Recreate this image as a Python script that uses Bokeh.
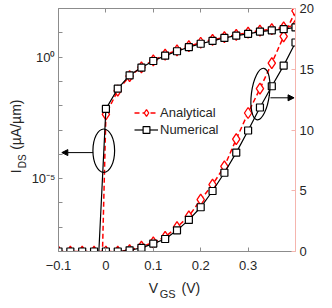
from bokeh.plotting import figure
from bokeh.models import (Range1d, LinearAxis, LinearScale, FixedTicker, Legend, LegendItem,
                          Label, Arrow, NormalHead, CustomJSTickFormatter)
from bokeh.embed import file_html
from bokeh.resources import INLINE

# ---- data ----
vgs = [-0.1, -0.075, -0.05, -0.025, 0.0, 0.025, 0.05, 0.075, 0.1, 0.125, 0.15,
       0.175, 0.2, 0.225, 0.25, 0.275, 0.3, 0.325, 0.35, 0.375, 0.4]
# log-scale curves (left axis), uA/um
ana_log = [1e-40, 1e-35, 1e-30, 1e-22, 4.4e-3, 4.2e-2, 1.66e-1, 3.8e-1, 7.4e-1, 1.26,
           1.9, 2.8, 3.9, 5.1, 6.6, 8.3, 10.2, 12.3, 14.1, 16.6, 20.0]
num_log = [1e-20, 1e-18, 1e-15, 1e-12, 7.4e-3, 5.0e-2, 1.78e-1, 3.7e-1, 6.9e-1, 1.15,
           1.74, 2.57, 3.55, 4.68, 6.17, 7.6, 9.1, 11.2, 12.6, 14.1, 16.6]
# linear-scale curves (right axis), uA/um
ana_lin = [0, 0, 0, 0, 0, 0, 0.12, 0.4, 0.75, 1.2, 2.0, 2.9, 4.27, 5.5, 7.0, 9.25,
           11.4, 13.4, 15.5, 17.7, 19.8]
num_lin = [0, 0, 0, 0, 0, 0, 0.1, 0.3, 0.65, 1.03, 1.74, 2.6, 3.64, 4.98, 6.48, 8.14,
           9.96, 11.85, 13.6, 15.3, 17.2]

x_ticks = [-0.1, 0.0, 0.1, 0.2, 0.3]
log_ticks = [1e-8, 1e-7, 1e-6, 1e-5, 1e-4, 1e-3, 1e-2, 1e-1, 1e0, 1e1, 1e2]
log_tick_labels = ["", "", "", "10\u207b\u2075", "", "", "", "", "10\u2070", "", ""]
lin_ticks = [0, 5, 10, 15, 20]
series_names = ["Analytical", "Numerical"]

FONT = "Liberation Sans"
GREY = "#8c8c8c"
PINK = "#f5b5ae"
TXT = "#262626"
NB = "\u00a0"

p = figure(width=316, height=300, x_range=Range1d(-0.1, 0.4),
           y_range=Range1d(1e-8, 1e2), y_axis_type="log",
           output_backend="svg", toolbar_location=None,
           min_border_left=58, min_border_right=18, min_border_top=8,
           min_border_bottom=48)
p.extra_y_ranges = {"lin": Range1d(0, 20)}
p.extra_y_scales = {"lin": LinearScale()}
p.grid.visible = False
p.outline_line_color = None
p.background_fill_color = "white"
p.border_fill_color = "white"

blank = CustomJSTickFormatter(code="return '';")


def style(ax, color):
    ax.axis_line_color = color
    ax.axis_line_width = 1
    ax.major_tick_line_color = color
    ax.major_tick_in = 4
    ax.major_tick_out = 0
    ax.minor_tick_line_color = None
    ax.major_label_text_font = FONT
    ax.major_label_text_font_size = "13px"
    ax.major_label_text_color = TXT


# bottom x axis
xa = p.xaxis[0]
xa.ticker = FixedTicker(ticks=x_ticks)
style(xa, GREY)
xa.major_label_standoff = 9

# top x axis (ticks only)
top = LinearAxis(ticker=FixedTicker(ticks=x_ticks), formatter=blank)
style(top, GREY)
top.major_label_standoff = 0
p.add_layout(top, "above")

# left log axis
ya = p.yaxis[0]
ya.ticker = FixedTicker(ticks=log_ticks)
ya.formatter = CustomJSTickFormatter(
    args=dict(tv=log_ticks, tl=log_tick_labels),
    code="""
    for (let i = 0; i < tv.length; i++) {
        if (Math.abs(Math.log10(tick) - Math.log10(tv[i])) < 1e-6) return tl[i];
    }
    return '';
    """)
style(ya, GREY)
ya.major_label_standoff = 3

# right linear axis
ra = LinearAxis(y_range_name="lin", ticker=FixedTicker(ticks=lin_ticks))
style(ra, PINK)
ra.major_label_standoff = 4
p.add_layout(ra, "right")

# ---- curves ----
r_al = p.line(vgs, ana_log, line_color="red", line_width=1.5, line_dash="5 3")
r_am = p.scatter(vgs, ana_log, marker="diamond", size=11, line_color="red",
                 fill_color="white", line_width=1.3)
r_al2 = p.line(vgs, ana_lin, line_color="red", line_width=1.5, line_dash="5 3",
               y_range_name="lin")
r_am2 = p.scatter(vgs, ana_lin, marker="diamond", size=11, line_color="red",
                  fill_color="white", line_width=1.3, y_range_name="lin")
r_nl = p.line(vgs, num_log, line_color="black", line_width=1.2)
r_nm = p.scatter(vgs, num_log, marker="square", size=7, line_color="black",
                 fill_color="white", line_width=1.2)
r_nl2 = p.line(vgs, num_lin, line_color="black", line_width=1.2, y_range_name="lin")
r_nm2 = p.scatter(vgs, num_lin, marker="square", size=7, line_color="black",
                  fill_color="white", line_width=1.2, y_range_name="lin")

# ---- annotations: ellipses + arrows ----
p.ellipse(x=[-0.0045], y=[8.3], width=21.7, height=43.4, width_units="screen",
          height_units="screen", fill_color=None, line_color="black", line_width=1.2,
          y_range_name="lin")
p.ellipse(x=[0.326], y=[12.96], width=18, height=52, width_units="screen",
          height_units="screen", angle=-0.13, fill_color=None, line_color="black",
          line_width=1.2, y_range_name="lin")
p.add_layout(Arrow(end=NormalHead(size=6, fill_color="black", line_color="black",
                                  line_width=1),
                   x_start=-0.027, y_start=8.14, x_end=-0.093, y_end=8.14,
                   line_color="black", line_width=1, y_range_name="lin"))
p.add_layout(Arrow(end=NormalHead(size=6, fill_color="black", line_color="black",
                                  line_width=1),
                   x_start=0.347, y_start=12.65, x_end=0.397, y_end=12.65,
                   line_color="black", line_width=1, y_range_name="lin"))

# ---- legend ----
legend = Legend(items=[LegendItem(label=series_names[0], renderers=[r_al, r_am]),
                       LegendItem(label=series_names[1], renderers=[r_nl, r_nm])],
                location=(76, 113), border_line_color=None, background_fill_alpha=0,
                glyph_width=24, glyph_height=17, label_height=17, label_standoff=2,
                padding=0, margin=0, spacing=0, label_text_font=FONT,
                label_text_font_size="13px", label_text_color=TXT)
p.add_layout(legend)


def lab(text, x, y, xo, yo, size, side, angle=0.0):
    p.add_layout(Label(x=x, y=y, x_offset=xo, y_offset=yo, text=text, text_font=FONT,
                       text_font_size=size, text_color=TXT, text_align="left",
                       text_baseline="alphabetic", angle=angle), side)


# x axis label  V_GS (V)
lab("V" + NB * 6 + "(V)", 0.0906, 1e-8, 0, -36.5, "14px", "below")
lab("GS", 0.1135, 1e-8, 0, -42, "11px", "below")

# y axis label  I_DS (uA/um), rotated
ROT = 1.5707963
lab("I" + NB * 5 + "(\u00b5A/\u00b5m)", -0.1, 1e-5, -43, 5.4, "14px", "left", ROT)
lab("DS", -0.1, 1e-5, -36.4, 10.3, "10px", "left", ROT)

open("out.html", "w").write(file_html(p, INLINE))
